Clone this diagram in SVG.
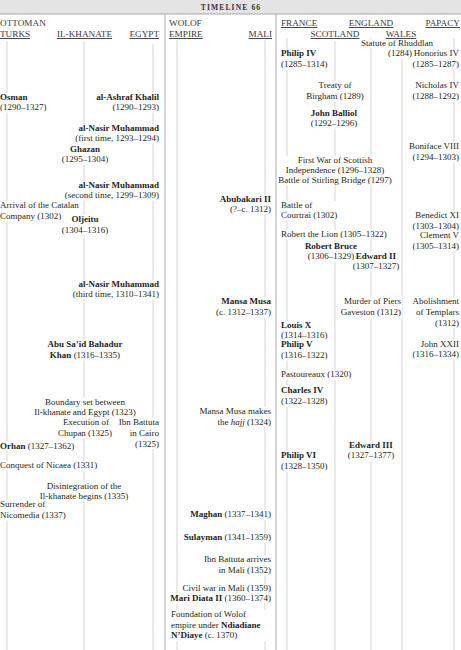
<svg xmlns="http://www.w3.org/2000/svg" width="461" height="650" viewBox="0 0 461 650">
<style>
text{font-family:"Liberation Serif","Times New Roman",serif;font-size:9px;fill:#231f20}
.b{font-weight:bold}
.m{text-anchor:middle}
.e{text-anchor:end}
.h{font-size:9.2px;fill:#3a3a3a}
.u{text-decoration:underline}
.k{fill:#fff}
.ln{stroke:#dcdcdc;stroke-width:1.2}
.dv{stroke:#acacac;stroke-width:1}
</style>
<rect width="461" height="650" fill="#fff"/>
<g id="title">
<rect x="0" y="0" width="461" height="14" fill="#e4e4e4"/>
<line x1="0" y1="14" x2="461" y2="14" stroke="#a8a8a8" stroke-width="1"/>
<text x="231" y="10" class="m b" style="font-size:7.6px;letter-spacing:1.1px;fill:#333">TIMELINE 66</text>
</g>
<g id="connectors">
<line class="dv" x1="165" y1="14" x2="165" y2="650"/>
<line class="dv" x1="276" y1="14" x2="276" y2="650"/>
<line class="ln" x1="7" y1="41" x2="7" y2="650"/>
<line class="ln" x1="84" y1="41" x2="84" y2="650"/>
<line class="ln" x1="153" y1="44" x2="153" y2="650"/>
<line class="ln" x1="177" y1="40" x2="177" y2="650"/>
<line class="ln" x1="265" y1="40" x2="265" y2="650"/>
<line class="ln" x1="287" y1="38" x2="287" y2="650"/>
<line class="ln" x1="335" y1="41" x2="335" y2="650"/>
<line class="ln" x1="371" y1="38" x2="371" y2="650"/>
<line class="ln" x1="402" y1="41" x2="402" y2="650"/>
<line class="ln" x1="454" y1="38" x2="454" y2="650"/>
</g>
<g id="headers">
<text class="h" x="0" y="26">OTTOMAN</text>
<text class="h u" x="0" y="37">TURKS</text>
<text class="h u m" x="84.5" y="37">IL-KHANATE</text>
<text class="h u e" x="159" y="37">EGYPT</text>
<text class="h" x="169" y="26">WOLOF</text>
<text class="h u" x="169" y="37">EMPIRE</text>
<text class="h u e" x="272" y="37">MALI</text>
<text class="h u" x="281" y="26">FRANCE</text>
<text class="h u m" x="371" y="26">ENGLAND</text>
<text class="h u e" x="460" y="26">PAPACY</text>
<text class="h u m" x="335" y="37">SCOTLAND</text>
<text class="h u m" x="401" y="37">WALES</text>
</g>
<g id="osman"><rect class="k" x="0" y="93" width="49" height="19.5"/><text x="0" y="100" class="b">Osman</text><text x="0" y="110">(1290–1327)</text></g>
<g id="ashraf"><rect class="k" x="99" y="93" width="61" height="19.5"/><text class="e b" x="159" y="100">al-Ashraf Khalil</text><text class="e" x="159" y="110">(1290–1293)</text></g>
<g id="nasir1"><rect class="k" x="75" y="124" width="85" height="19.5"/><text class="e b" x="159" y="131">al-Nasir Muhammad</text><text class="e" x="159" y="141">(first time, 1293–1294)</text></g>
<g id="ghazan"><rect class="k" x="60" y="145" width="50" height="19.5"/><text class="m b" x="85" y="152">Ghazan</text><text class="m" x="85" y="162">(1295–1304)</text></g>
<g id="nasir2"><rect class="k" x="65" y="181" width="95" height="19.5"/><text class="e b" x="159" y="188">al-Nasir Muhammad</text><text class="e" x="159" y="198">(second time, 1299–1309)</text></g>
<g id="catalan"><rect class="k" x="0" y="201" width="79" height="10.5"/><rect class="k" x="0" y="211.5" width="64" height="10"/><text x="0" y="208">Arrival of the Catalan</text><text x="0" y="219">Company (1302)</text></g>
<g id="oljeitu"><rect class="k" x="70" y="215" width="31" height="10.5"/><rect class="k" x="61" y="225.5" width="48" height="10"/><text class="m b" x="85" y="222">Oljeitu</text><text class="m" x="85" y="233">(1304–1316)</text></g>
<g id="nasir3"><rect class="k" x="71" y="280" width="89" height="19.5"/><text class="e b" x="159" y="287">al-Nasir Muhammad</text><text class="e" x="159" y="297">(third time, 1310–1341)</text></g>
<g id="abusaid"><rect class="k" x="48" y="340" width="73" height="20.5"/><text class="m b" x="85" y="347">Abu Sa’id Bahadur</text><text class="m" x="85" y="358"><tspan class="b">Khan</tspan> (1316–1335)</text></g>
<g id="boundary"><rect class="k" x="32" y="397.5" width="105" height="20"/><text class="m" x="85" y="404.5">Boundary set between</text><text class="m" x="85" y="415">Il-khanate and Egypt (1323)</text></g>
<g id="chupan"><rect class="k" x="56" y="418.5" width="57" height="20"/><text class="m" x="86" y="425">Execution of</text><text class="m" x="85" y="436">Chupan (1325)</text></g>
<g id="ibncairo"><rect class="k" x="118" y="418" width="42" height="31.5"/><text class="e" x="159" y="425">Ibn Battuta</text><text class="e" x="159" y="436">in Cairo</text><text class="e" x="159" y="447">(1325)</text></g>
<g id="orhan"><rect class="k" x="0" y="441.5" width="76" height="9.5"/><text x="0" y="448.5"><tspan class="b">Orhan</tspan> (1327–1362)</text></g>
<g id="nicaea"><rect class="k" x="0" y="461" width="94" height="9.5"/><text x="0" y="468">Conquest of Nicaea (1331)</text></g>
<g id="disintegration"><rect class="k" x="35" y="482" width="95" height="19.5"/><text class="m" x="84" y="489">Disintegration of the</text><text class="m" x="84" y="499">Il-khanate begins (1335)</text></g>
<g id="nicomedia"><rect class="k" x="0" y="500" width="67" height="20.5"/><text x="0" y="507">Surrender of</text><text x="0" y="518">Nicomedia (1337)</text></g>
<g id="abubakari"><rect class="k" x="222" y="195" width="50" height="19.5"/><text class="e b" x="271" y="202">Abubakari II</text><text class="e" x="271" y="212">(?–c. 1312)</text></g>
<g id="mansamusa"><rect class="k" x="215" y="297" width="57" height="20.5"/><text class="e b" x="271" y="304">Mansa Musa</text><text class="e" x="271" y="315">(c. 1312–1337)</text></g>
<g id="hajj"><rect class="k" x="201" y="407" width="71" height="20.5"/><text class="e" x="271" y="414">Mansa Musa makes</text><text class="e" x="271" y="425">the <tspan font-style="italic">hajj</tspan> (1324)</text></g>
<g id="maghan"><rect class="k" x="189" y="510" width="83" height="9.5"/><text class="e" x="271" y="517"><tspan class="b">Maghan</tspan> (1337–1341)</text></g>
<g id="sulayman"><rect class="k" x="183" y="533" width="89" height="9.5"/><text class="e" x="271" y="540"><tspan class="b">Sulayman</tspan> (1341–1359)</text></g>
<g id="ibnmali"><rect class="k" x="206" y="555" width="66" height="20.5"/><text class="e" x="271" y="562">Ibn Battuta arrives</text><text class="e" x="271" y="573">in Mali (1352)</text></g>
<g id="civilwar"><rect class="k" x="182" y="584" width="90" height="9.5"/><text class="e" x="271" y="591">Civil war in Mali (1359)</text></g>
<g id="maridiata"><rect class="k" x="170" y="594" width="102" height="9.5"/><text class="e" x="271" y="601"><tspan class="b">Mari Diata II</tspan> (1360–1374)</text></g>
<g id="wolof"><rect class="k" x="170" y="610" width="102" height="31.5"/><text x="171" y="617">Foundation of Wolof</text><text x="171" y="628">empire under <tspan class="b">Ndiadiane</tspan></text><text x="171" y="638"><tspan class="b">N’Diaye</tspan> (c. 1370)</text></g>
<g id="philip4"><rect class="k" x="280" y="49" width="49" height="20.5"/><text class="b" x="281" y="56">Philip IV</text><text x="281" y="67">(1285–1314)</text></g>
<g id="rhuddlan"><rect class="k" x="362" y="39" width="69" height="9.5"/><rect class="k" x="386" y="48.5" width="27" height="10"/><text class="m" x="397" y="46">Statute of Rhuddlan</text><text class="m" x="400" y="56">(1284)</text></g>
<g id="honorius"><rect class="k" x="414" y="49" width="47" height="20.5"/><text class="e" x="459" y="56">Honorius IV</text><text class="e" x="459" y="67">(1285–1287)</text></g>
<g id="birgham"><rect class="k" x="306" y="81" width="58" height="20.5"/><text class="m" x="335" y="88">Treaty of</text><text class="m" x="335" y="99">Birgham (1289)</text></g>
<g id="nicholas"><rect class="k" x="414" y="81" width="47" height="20.5"/><text class="e" x="459" y="88">Nicholas IV</text><text class="e" x="459" y="99">(1288–1292)</text></g>
<g id="balliol"><rect class="k" x="306" y="109" width="58" height="19.5"/><text class="m b" x="334" y="116">John Balliol</text><text class="m" x="334" y="126">(1292–1296)</text></g>
<g id="boniface"><rect class="k" x="411" y="142" width="50" height="20.5"/><text class="e" x="459" y="149">Boniface VIII</text><text class="e" x="459" y="160">(1294–1303)</text></g>
<g id="firstwar"><rect class="k" x="278" y="156" width="115" height="29.5"/><text class="m" x="335" y="163">First War of Scottish</text><text class="m" x="335" y="173">Independence (1296–1328)</text><text class="m" x="335" y="183">Battle of Stirling Bridge (1297)</text></g>
<g id="courtrai"><rect class="k" x="280" y="201" width="60" height="19.5"/><text x="281" y="208">Battle of</text><text x="281" y="218">Courtrai (1302)</text></g>
<g id="benedict"><rect class="k" x="414" y="211" width="47" height="20.5"/><text class="e" x="459" y="218">Benedict XI</text><text class="e" x="459" y="229">(1303–1304)</text></g>
<g id="lion"><rect class="k" x="280" y="230" width="109" height="9.5"/><text x="281" y="237">Robert the Lion (1305–1322)</text></g>
<g id="clement"><rect class="k" x="411" y="231" width="50" height="20.5"/><text class="e" x="459" y="238">Clement V</text><text class="e" x="459" y="249">(1305–1314)</text></g>
<g id="bruce"><rect class="k" x="306" y="242" width="51" height="19.5"/><text class="m b" x="331" y="249">Robert Bruce</text><text class="m" x="331" y="259">(1306–1329)</text></g>
<g id="edward2"><rect class="k" x="356" y="252" width="40" height="9.5"/><rect class="k" x="351" y="261.5" width="49" height="10"/><text class="m b" x="376" y="259">Edward II</text><text class="m" x="376" y="269">(1307–1327)</text></g>
<g id="gaveston"><rect class="k" x="339" y="297" width="63" height="20.5"/><text class="e" x="401" y="304">Murder of Piers</text><text class="e" x="401" y="315">Gaveston (1312)</text></g>
<g id="templars"><rect class="k" x="414" y="297" width="47" height="31.5"/><text class="e" x="459" y="304">Abolishment</text><text class="e" x="459" y="315">of Templars</text><text class="e" x="459" y="326">(1312)</text></g>
<g id="louis"><rect class="k" x="280" y="321" width="49" height="19.5"/><text class="b" x="281" y="328">Louis X</text><text x="281" y="338">(1314–1316)</text></g>
<g id="philip5"><rect class="k" x="280" y="340.5" width="49" height="20"/><text class="b" x="281" y="347">Philip V</text><text x="281" y="358">(1316–1322)</text></g>
<g id="johnxxii"><rect class="k" x="411" y="340" width="50" height="19.5"/><text class="e" x="459" y="347">John XXII</text><text class="e" x="459" y="357">(1316–1334)</text></g>
<g id="pastoureaux"><rect class="k" x="280" y="370" width="71" height="9.5"/><text x="281" y="377">Pastoureaux (1320)</text></g>
<g id="charles4"><rect class="k" x="280" y="386" width="49" height="20.5"/><text class="b" x="281" y="393">Charles IV</text><text x="281" y="404">(1322–1328)</text></g>
<g id="edward3"><rect class="k" x="347" y="441" width="49" height="19.5"/><text class="m b" x="371" y="448">Edward III</text><text class="m" x="371" y="458">(1327–1377)</text></g>
<g id="philip6"><rect class="k" x="280" y="451" width="49" height="20.5"/><text class="b" x="281" y="458">Philip VI</text><text x="281" y="469">(1328–1350)</text></g>
</svg>
